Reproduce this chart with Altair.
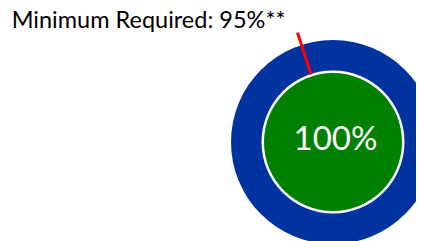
import math
import altair as alt
import pandas as pd

# data
achieved = [100]
minimum = [95]
label_prefix = ["Minimum Required: "]
label_suffix = ["%**"]

df = pd.DataFrame({
    "achieved": achieved,
    "minimum": minimum,
    "prefix": label_prefix,
    "suffix": label_suffix,
})

CX, CY = 325, 134
FONT = "Lato"
theta_scale = alt.Scale(domain=[0, 100], range=[0, 2 * math.pi])

base = alt.Chart(df)

ring = base.mark_arc(color="#0033a0", innerRadius=71.5, outerRadius=102).encode(
    theta=alt.Theta("achieved:Q", scale=theta_scale, stack=True),
    x=alt.value(CX), y=alt.value(CY),
)

core = base.mark_arc(color="#008000", innerRadius=0, outerRadius=69).encode(
    theta=alt.Theta("achieved:Q", scale=theta_scale, stack=True),
    x=alt.value(CX), y=alt.value(CY),
)

marker = base.transform_calculate(
    ang="2*PI*datum.minimum/100",
).transform_calculate(
    x1=f"{CX} + 71*sin(datum.ang)",
    y1=f"{CY} - 71*cos(datum.ang)",
    x2=f"{CX} + 115*sin(datum.ang)",
    y2=f"{CY} - 115*cos(datum.ang)",
).mark_rule(color="#ff0000", strokeWidth=3).encode(
    x=alt.X("x1:Q", scale=None),
    y=alt.Y("y1:Q", scale=None),
    x2="x2:Q",
    y2="y2:Q",
)

center_text = base.transform_calculate(
    lbl="datum.achieved + '%'"
).mark_text(color="white", font=FONT, fontSize=33, align="center", baseline="alphabetic").encode(
    text="lbl:N", x=alt.value(CX + 2.5), y=alt.value(CY + 8),
)

title_text = base.transform_calculate(
    lbl="datum.prefix + datum.minimum + datum.suffix"
).mark_text(color="black", font=FONT, fontSize=23.5, align="left", baseline="alphabetic").encode(
    text="lbl:N", x=alt.value(3.7), y=alt.value(20.3),
)

chart = alt.layer(ring, core, marker, center_text, title_text).properties(
    width=408, height=233,
    autosize=alt.AutoSizeParams(type="none"),
    padding=0,
).configure_view(stroke=None)

chart.save("out.html", embed_options={"renderer": "svg", "actions": False})
